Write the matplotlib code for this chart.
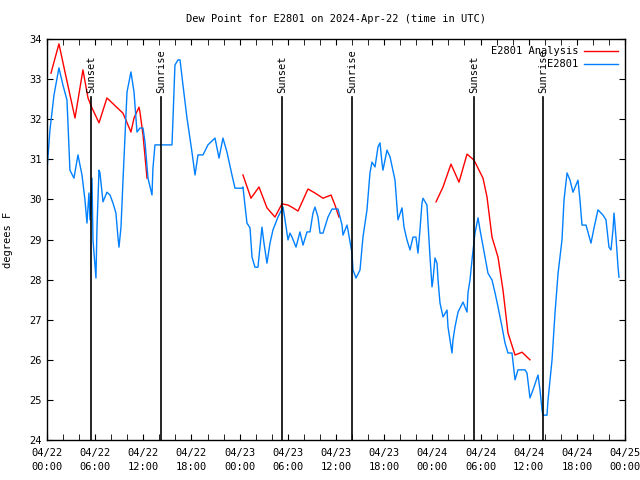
import matplotlib
matplotlib.use("Agg")
import matplotlib.pyplot as plt
import numpy as np

# hours since 2024-04-22 00:00 UTC
obs_hours = [0, 0.37, 0.87, 1.49, 1.99, 2.49, 2.86, 3.36, 3.86, 4.36, 4.73, 4.98, 5.11, 5.23,
             5.36, 5.61, 5.73, 6.10, 6.23, 6.48, 6.60, 6.73, 6.98, 7.47, 7.85, 8.22, 8.59,
             8.84, 8.97, 9.22, 9.47, 9.97, 10.46, 10.84, 11.21, 11.58, 11.96, 12.21, 12.58,
             13.08, 13.20, 13.45, 15.57, 15.70, 15.94, 16.32, 16.57, 16.94, 17.44, 18.06,
             18.44, 18.81, 19.43, 20.05, 20.93, 21.43, 21.92, 22.42, 23.04, 23.42, 24.29,
             24.41, 24.91, 25.29, 25.54, 25.91, 26.28, 26.78, 27.03, 27.40, 27.78, 28.15,
             28.77, 29.40, 29.65, 30.02, 30.27, 30.52, 31.02, 31.51, 31.89, 32.39, 32.76,
             33.13, 33.38, 33.76, 34.01, 34.38, 35.00, 35.50, 36.25, 36.75, 36.87, 37.37,
             37.49, 37.99, 38.12, 38.49, 38.99, 39.36, 39.86, 40.23, 40.48, 40.86, 41.23,
             41.48, 41.73, 41.85, 42.35, 42.73, 43.35, 43.72, 44.22, 44.47, 44.84, 45.22,
             45.59, 45.96, 46.21, 46.46, 46.71, 46.84, 47.33, 47.71, 47.96, 48.08, 48.33,
             48.58, 48.71, 48.95, 49.33, 49.83, 49.95, 50.20, 50.45, 50.57, 50.82, 51.20,
             51.82, 52.32, 52.44, 52.69, 52.94, 53.31, 53.69, 53.94, 54.56, 54.93, 55.43,
             55.81, 56.18, 56.68, 57.05, 57.42, 57.92, 58.30, 58.67, 59.17, 59.54, 59.79,
             60.16, 60.54, 61.16, 61.41, 61.66, 61.78, 62.28, 62.41, 62.91, 63.28, 63.66,
             64.15, 64.40, 64.78, 65.15, 65.52, 65.89, 66.14, 66.39, 66.64, 67.14, 67.76,
             68.14, 68.63, 69.25, 69.63, 70.00, 70.25, 70.50, 70.63, 70.88, 71.13, 71.25]
obs_dewpt = [30.73, 31.73, 32.60, 33.28, 32.85, 32.48, 30.73, 30.53, 31.11, 30.61, 29.99, 29.41,
             29.81, 30.16, 29.49, 30.53, 28.99, 28.04, 29.31, 30.73, 30.66, 30.41, 29.94,
             30.18, 30.11, 29.91, 29.66, 29.06, 28.81, 29.31, 30.48, 32.68, 33.18, 32.68,
             31.68, 31.78, 31.78, 31.43, 30.53, 30.11, 30.78, 31.36, 31.36, 32.03, 33.35,
             33.48, 33.48, 32.85, 32.03, 31.18, 30.61, 31.11, 31.11, 31.36, 31.53, 31.03,
             31.53, 31.18, 30.61, 30.28, 30.28, 30.31, 29.41, 29.29, 28.56, 28.31, 28.31,
             29.31, 28.91, 28.41, 28.91, 29.24, 29.56, 29.81, 29.49, 28.99, 29.16, 29.06,
             28.81, 29.19, 28.86, 29.19, 29.19, 29.66, 29.81, 29.56, 29.16, 29.16, 29.56,
             29.76, 29.76, 29.36, 29.11, 29.36, 29.24, 28.66, 28.24, 28.04, 28.24, 29.06,
             29.74, 30.66, 30.93, 30.81, 31.31, 31.41, 30.91, 30.73, 31.23, 31.06, 30.48,
             29.49, 29.79, 29.31, 28.99, 28.74, 29.06, 29.06, 28.66, 29.24, 29.91, 30.03,
             29.86, 28.56, 27.82, 27.99, 28.54, 28.41, 27.99, 27.42, 27.07, 27.24, 26.82,
             26.49, 26.17, 26.49, 26.82, 27.19, 27.44, 27.19, 27.67, 27.99, 28.49, 29.16,
             29.54, 29.24, 28.56, 28.16, 27.99, 27.67, 27.32, 26.82, 26.42, 26.17, 26.17,
             25.50, 25.75, 25.75, 25.75, 25.67, 25.05, 25.25, 25.62, 25.25, 24.75, 24.62,
             24.62, 25.00, 26.00, 27.17, 28.16, 28.99, 29.99, 30.66, 30.48, 30.18, 30.36,
             30.48, 29.99, 29.36, 29.36, 28.91, 29.29, 29.74, 29.61, 29.49, 28.81, 28.74,
             29.24, 29.66, 29.04, 28.31, 28.06]

# analysis comes in three separate pieces
ana1_hours = [0.50, 1.49, 2.24, 3.49, 4.48, 5.11, 5.61, 6.48, 7.47, 9.47, 10.46, 10.84, 11.46,
              11.58, 11.96, 12.46]
ana1_dewpt = [33.15, 33.88, 33.18, 32.03, 33.23, 32.53, 32.28, 31.91, 32.53, 32.15, 31.68, 32.03,
              32.30, 32.18, 31.61, 30.53]
ana2_hours = [24.41, 25.41, 26.41, 27.40, 28.40, 29.27, 30.02, 30.64, 31.27, 32.51, 33.38,
              34.38, 35.38, 35.87, 36.37]
ana2_dewpt = [30.61, 30.03, 30.31, 29.79, 29.56, 29.89, 29.86, 29.79, 29.71, 30.26, 30.16,
              30.03, 30.11, 29.86, 29.56]
ana3_hours = [48.46, 49.33, 50.32, 51.32, 52.32, 53.19, 54.31, 54.81, 55.43, 56.18, 56.80,
              57.42, 58.30, 59.17, 60.16]
ana3_dewpt = [29.94, 30.31, 30.88, 30.43, 31.13, 30.98, 30.53, 30.06, 29.06, 28.56, 27.74,
              26.67, 26.12, 26.19, 26.00]

sun_hours = [5.48, 14.2, 29.27, 37.99, 53.19, 61.78]
sun_labels = ["Sunset", "Sunrise", "Sunset", "Sunrise", "Sunset", "Sunrise"]

tick_hours = list(range(0, 73, 6))
tick_labels = ["04/22\n00:00", "04/22\n06:00", "04/22\n12:00", "04/22\n18:00",
               "04/23\n00:00", "04/23\n06:00", "04/23\n12:00", "04/23\n18:00",
               "04/24\n00:00", "04/24\n06:00", "04/24\n12:00", "04/24\n18:00",
               "04/25\n00:00"]

plt.rcParams['font.family'] = ['DejaVu Sans Mono']
plt.rcParams['font.size'] = 7

fig = plt.figure(figsize=(6.4, 4.8), dpi=100)
ax = fig.add_axes([0.0734, 0.0833, 0.9032, 0.8354])

red = '#ff0000'
blue = '#0080ff'

ax.plot(ana1_hours, ana1_dewpt, color=red, lw=1, label='E2801 Analysis')
ax.plot(ana2_hours, ana2_dewpt, color=red, lw=1)
ax.plot(ana3_hours, ana3_dewpt, color=red, lw=1)
ax.plot(obs_hours, obs_dewpt, color=blue, lw=1, label='E2801')

for h, lab in zip(sun_hours, sun_labels):
    ax.plot([h, h], [24, 32.55], color='black', lw=1.2)
    ax.text(h, 32.65, lab, rotation=90, ha='center', va='bottom', fontsize=7.5)

ax.set_xlim(0, 72)
ax.set_ylim(24, 34)
ax.set_xticks(tick_hours)
ax.set_xticklabels(tick_labels, linespacing=1.4)
ax.set_xticks(np.arange(0, 73, 2), minor=True)
ax.set_yticks(range(24, 35))
ax.tick_params(which='both', direction='in', top=True, right=True, length=4, labelsize=7.5)
ax.tick_params(axis='x', pad=6)
for s in ax.spines.values():
    s.set_linewidth(1)

ax.set_ylabel('degrees F', fontsize=7.5, labelpad=12)
ax.set_title('Dew Point for E2801 on 2024-Apr-22 (time in UTC)', fontsize=7.5, pad=12)

ax.legend(loc='upper right', frameon=False, markerfirst=False, handlelength=3.2,
          fontsize=7.5, borderaxespad=0.3, labelspacing=0.3, handletextpad=0.6)

fig.savefig('out.png', dpi=100)
